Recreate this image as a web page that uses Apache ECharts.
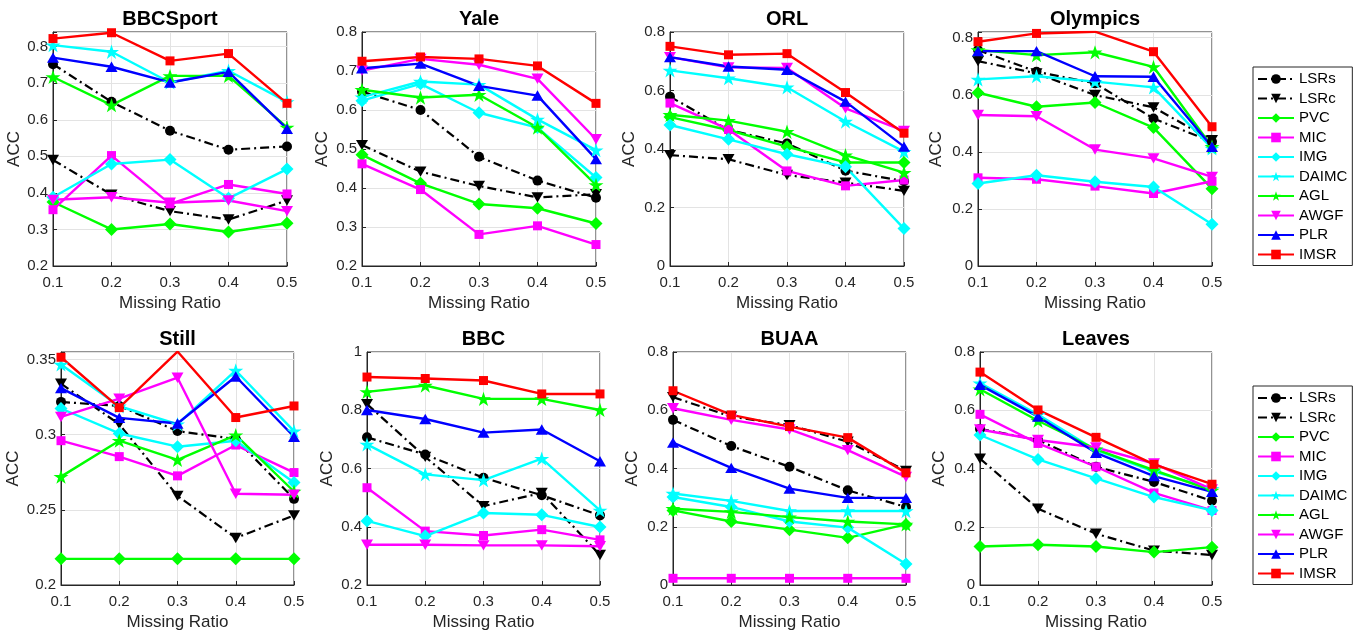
<!DOCTYPE html>
<html><head><meta charset="utf-8">
<script src="https://cdn.jsdelivr.net/npm/echarts@6/dist/echarts.min.js"></script>
<style>html,body{margin:0;padding:0;background:#fff}#c{width:1355px;height:635px}</style>
</head><body><div id="c"></div>
<script>
// ---------------- DATA ----------------
const ratios = ['0.1','0.2','0.3','0.4','0.5'];
const methods = ['LSRs','LSRc','PVC','MIC','IMG','DAIMC','AGL','AWGF','PLR','IMSR'];
const datasetNames = ['BBCSport','Yale','ORL','Olympics','Still','BBC','BUAA','Leaves'];

const bbcsport = {
  LSRs:[0.752,0.649,0.570,0.518,0.527], LSRc:[0.490,0.395,0.350,0.327,0.379],
  PVC:[0.375,0.300,0.315,0.293,0.317], MIC:[0.354,0.502,0.370,0.423,0.397],
  IMG:[0.388,0.479,0.491,0.385,0.465], DAIMC:[0.804,0.786,0.702,0.734,0.649],
  AGL:[0.717,0.640,0.720,0.720,0.579], AWGF:[0.381,0.388,0.373,0.379,0.350],
  PLR:[0.770,0.745,0.702,0.731,0.575], IMSR:[0.822,0.838,0.761,0.781,0.645]
};
const yale = {
  LSRs:[0.647,0.600,0.480,0.419,0.375], LSRc:[0.510,0.442,0.405,0.376,0.384],
  PVC:[0.485,0.412,0.359,0.348,0.309], MIC:[0.462,0.396,0.281,0.303,0.255],
  IMG:[0.624,0.667,0.593,0.555,0.427], DAIMC:[0.633,0.673,0.665,0.576,0.497],
  AGL:[0.652,0.632,0.639,0.555,0.408], AWGF:[0.701,0.731,0.716,0.680,0.525],
  PLR:[0.707,0.719,0.662,0.637,0.474], IMSR:[0.725,0.736,0.731,0.713,0.617]
};
const orl = {
  LSRs:[0.579,0.465,0.419,0.326,0.290], LSRc:[0.379,0.365,0.311,0.285,0.257],
  PVC:[0.509,0.465,0.408,0.354,0.354], MIC:[0.557,0.467,0.325,0.274,0.294],
  IMG:[0.482,0.433,0.382,0.339,0.128], DAIMC:[0.669,0.642,0.611,0.494,0.391],
  AGL:[0.517,0.497,0.459,0.379,0.319], AWGF:[0.714,0.679,0.677,0.539,0.462],
  PLR:[0.714,0.682,0.671,0.562,0.408], IMSR:[0.751,0.722,0.726,0.593,0.454]
};
const olympics = {
  LSRs:[0.757,0.681,0.640,0.517,0.435], LSRc:[0.718,0.675,0.599,0.556,0.441],
  PVC:[0.607,0.558,0.573,0.485,0.271], MIC:[0.309,0.304,0.280,0.254,0.297],
  IMG:[0.289,0.318,0.295,0.277,0.146], DAIMC:[0.654,0.665,0.646,0.626,0.412],
  AGL:[0.757,0.739,0.749,0.698,0.418], AWGF:[0.529,0.525,0.408,0.377,0.312],
  PLR:[0.753,0.753,0.665,0.663,0.418], IMSR:[0.786,0.815,0.821,0.751,0.488]
};
const still = {
  LSRs:[0.3218,0.3191,0.3024,0.2971,0.2573], LSRc:[0.3339,0.3070,0.2593,0.2313,0.2463],
  PVC:[0.2174,0.2174,0.2174,0.2174,0.2174], MIC:[0.2960,0.2854,0.2726,0.2931,0.2748],
  IMG:[0.3174,0.3008,0.2920,0.2960,0.2682], DAIMC:[0.3467,0.3189,0.3070,0.3427,0.3024],
  AGL:[0.2721,0.2960,0.2832,0.2997,0.2622], AWGF:[0.3118,0.3240,0.3379,0.2607,0.2600],
  PLR:[0.3310,0.3112,0.3074,0.3387,0.2986], IMSR:[0.3515,0.3180,0.3553,0.3114,0.3191]
};
const bbc = {
  LSRs:[0.707,0.648,0.568,0.508,0.439], LSRc:[0.821,0.640,0.471,0.516,0.303],
  PVC:[null,null,null,null,null], MIC:[0.534,0.385,0.370,0.390,0.355],
  IMG:[0.420,0.368,0.447,0.441,0.399], DAIMC:[0.683,0.580,0.560,0.634,0.456],
  AGL:[0.863,0.885,0.839,0.839,0.801], AWGF:[0.338,0.338,0.336,0.336,0.333],
  PLR:[0.801,0.770,0.723,0.734,0.625], IMSR:[0.914,0.909,0.902,0.856,0.856]
};
const buaa = {
  LSRs:[0.567,0.477,0.406,0.325,0.268], LSRc:[0.645,0.578,0.549,0.492,0.392],
  PVC:[0.256,0.218,0.190,0.162,0.208], MIC:[0.023,0.023,0.023,0.023,0.023],
  IMG:[0.302,0.268,0.218,0.197,0.072], DAIMC:[0.314,0.289,0.254,0.254,0.254],
  AGL:[0.262,0.251,0.233,0.218,0.208], AWGF:[0.607,0.567,0.534,0.463,0.371],
  PLR:[0.489,0.402,0.331,0.299,0.299], IMSR:[0.667,0.584,0.544,0.506,0.385]
};
const leaves = {
  LSRs:[0.536,0.498,0.406,0.354,0.289], LSRc:[0.434,0.262,0.176,0.118,0.103],
  PVC:[0.132,0.138,0.132,0.113,0.130], MIC:[0.586,0.486,0.406,0.316,0.256],
  IMG:[0.515,0.431,0.366,0.302,0.256], DAIMC:[0.693,0.585,0.463,0.389,0.331],
  AGL:[0.672,0.564,0.466,0.394,0.325], AWGF:[0.534,0.498,0.472,0.417,0.328],
  PLR:[0.687,0.578,0.454,0.374,0.320], IMSR:[0.731,0.601,0.507,0.414,0.346]
};
const allData = [bbcsport, yale, orl, olympics, still, bbc, buaa, leaves];

// axis ranges (value limits and tick step)
const yMins = [0.2, 0.2, 0, 0, 0.2, 0.2, 0, 0];
const yMaxs = [0.84, 0.8, 0.8, 0.82, 0.355, 1, 0.8, 0.8];
const yIntervals = [0.1, 0.1, 0.2, 0.2, 0.05, 0.2, 0.2, 0.2];

// ---------------- LAYOUT / STYLE ----------------
const FONT = '"Liberation Sans", Arial, Helvetica, sans-serif';
const gridPos = [
  {left:53, top:32, width:234, height:234},
  {left:362, top:32, width:234, height:234},
  {left:670, top:32, width:234, height:234},
  {left:978, top:32, width:234, height:234},
  {left:61, top:352, width:233, height:233},
  {left:367, top:352, width:233, height:233},
  {left:673, top:352, width:233, height:233},
  {left:980, top:352, width:232, height:233}
];
const yNameGaps = [30, 31, 32, 33, 39, 31, 32, 32];

const STAR = 'path://M0,-10L2.245,-3.09L9.511,-3.09L3.633,1.18L5.878,8.09L0,3.82L-5.878,8.09L-3.633,1.18L-9.511,-3.09L-2.245,-3.09Z';
const TRI_DOWN = 'path://M-10,-8.66L10,-8.66L0,8.66Z';
const TRI_UP = 'path://M-10,8.66L10,8.66L0,-8.66Z';
const styles = {
  LSRs:{color:'#000000', symbol:'circle', size:10, dash:[9,4,2,4], width:2.2},
  LSRc:{color:'#000000', symbol:TRI_DOWN, size:12, dash:[9,4,2,4], width:2.2},
  PVC:{color:'#00ff00', symbol:'diamond', size:13, dash:'solid', width:2.4},
  MIC:{color:'#ff00ff', symbol:'rect', size:9, dash:'solid', width:2.4},
  IMG:{color:'#00ffff', symbol:'diamond', size:13, dash:'solid', width:2.4},
  DAIMC:{color:'#00ffff', symbol:STAR, size:15, dash:'solid', width:2.4},
  AGL:{color:'#00ff00', symbol:STAR, size:15, dash:'solid', width:2.4},
  AWGF:{color:'#ff00ff', symbol:TRI_DOWN, size:12, dash:'solid', width:2.4},
  PLR:{color:'#0000ff', symbol:TRI_UP, size:12, dash:'solid', width:2.4},
  IMSR:{color:'#ff0000', symbol:'rect', size:9, dash:'solid', width:2.4}
};

function fmt(interval){
  return function(v){
    const r = Math.round(v*10000)/10000;
    const k = r/interval;
    if (Math.abs(k - Math.round(k)) > 1e-6) return '';
    return String(r);
  };
}

const grids = [], xAxes = [], yAxes = [], series = [], graphics = [];
datasetNames.forEach((name, i) => {
  const g = gridPos[i];
  grids.push({left:g.left, top:g.top, width:g.width, height:g.height, show:true,
    borderColor:'#262626', borderWidth:1, backgroundColor:'#fff'});
  xAxes.push({type:'category', gridIndex:i, data:ratios, boundaryGap:false,
    name:'Missing Ratio', nameLocation:'middle', nameGap:29,
    nameTextStyle:{fontSize:17, color:'#262626', fontFamily:FONT},
    axisLine:{lineStyle:{color:'#262626', width:1}},
    axisTick:{inside:true, length:4, lineStyle:{color:'#262626'}},
    axisLabel:{fontSize:15, color:'#262626', fontFamily:FONT, margin:9},
    splitLine:{show:true, lineStyle:{color:'#e3e3e3', width:1}}});
  yAxes.push({type:'value', gridIndex:i, min:yMins[i], max:yMaxs[i], interval:yIntervals[i],
    name:'ACC', nameLocation:'middle', nameGap:yNameGaps[i],
    nameTextStyle:{fontSize:17, color:'#262626', fontFamily:FONT},
    axisLine:{show:true, lineStyle:{color:'#262626', width:1}},
    axisTick:{show:true, inside:true, length:4, lineStyle:{color:'#262626'}},
    axisLabel:{fontSize:15, color:'#262626', fontFamily:FONT, margin:5, formatter:fmt(yIntervals[i])},
    splitLine:{show:true, lineStyle:{color:'#e3e3e3', width:1}}});
  graphics.push({type:'text', x:g.left + g.width/2, y:(i<4?19:339),
    style:{text:name, fill:'#000', font:'bold 20px ' + FONT, textAlign:'center', textVerticalAlign:'middle'}});
  const ds = allData[i];
  methods.forEach(m => {
    const s = styles[m];
    series.push({type:'line', name:m, xAxisIndex:i, yAxisIndex:i, data:ds[m],
      symbol:s.symbol, symbolSize:s.size, symbolKeepAspect:true, showAllSymbol:true,
      lineStyle:{color:s.color, width:s.width, type:s.dash},
      itemStyle:{color:s.color, borderWidth:0}, emphasis:{disabled:true},
      animation:false, clip:true});
  });
});

function legendAt(top){
  return {orient:'vertical', left:1253, top:top, data:methods,
    itemWidth:36, itemHeight:12, itemGap:3.5, padding:[4,5,3,4],
    borderColor:'#262626', borderWidth:1, backgroundColor:'#fff',
    textStyle:{fontSize:15, color:'#000', fontFamily:FONT, lineHeight:16}};
}

const chart = echarts.init(document.getElementById('c'), null, {renderer:'canvas'});
chart.setOption({
  animation:false,
  backgroundColor:'#ffffff',
  grid:grids, xAxis:xAxes, yAxis:yAxes, series:series,
  legend:[legendAt(67), legendAt(386)],
  graphic:graphics
});
</script></body></html>
